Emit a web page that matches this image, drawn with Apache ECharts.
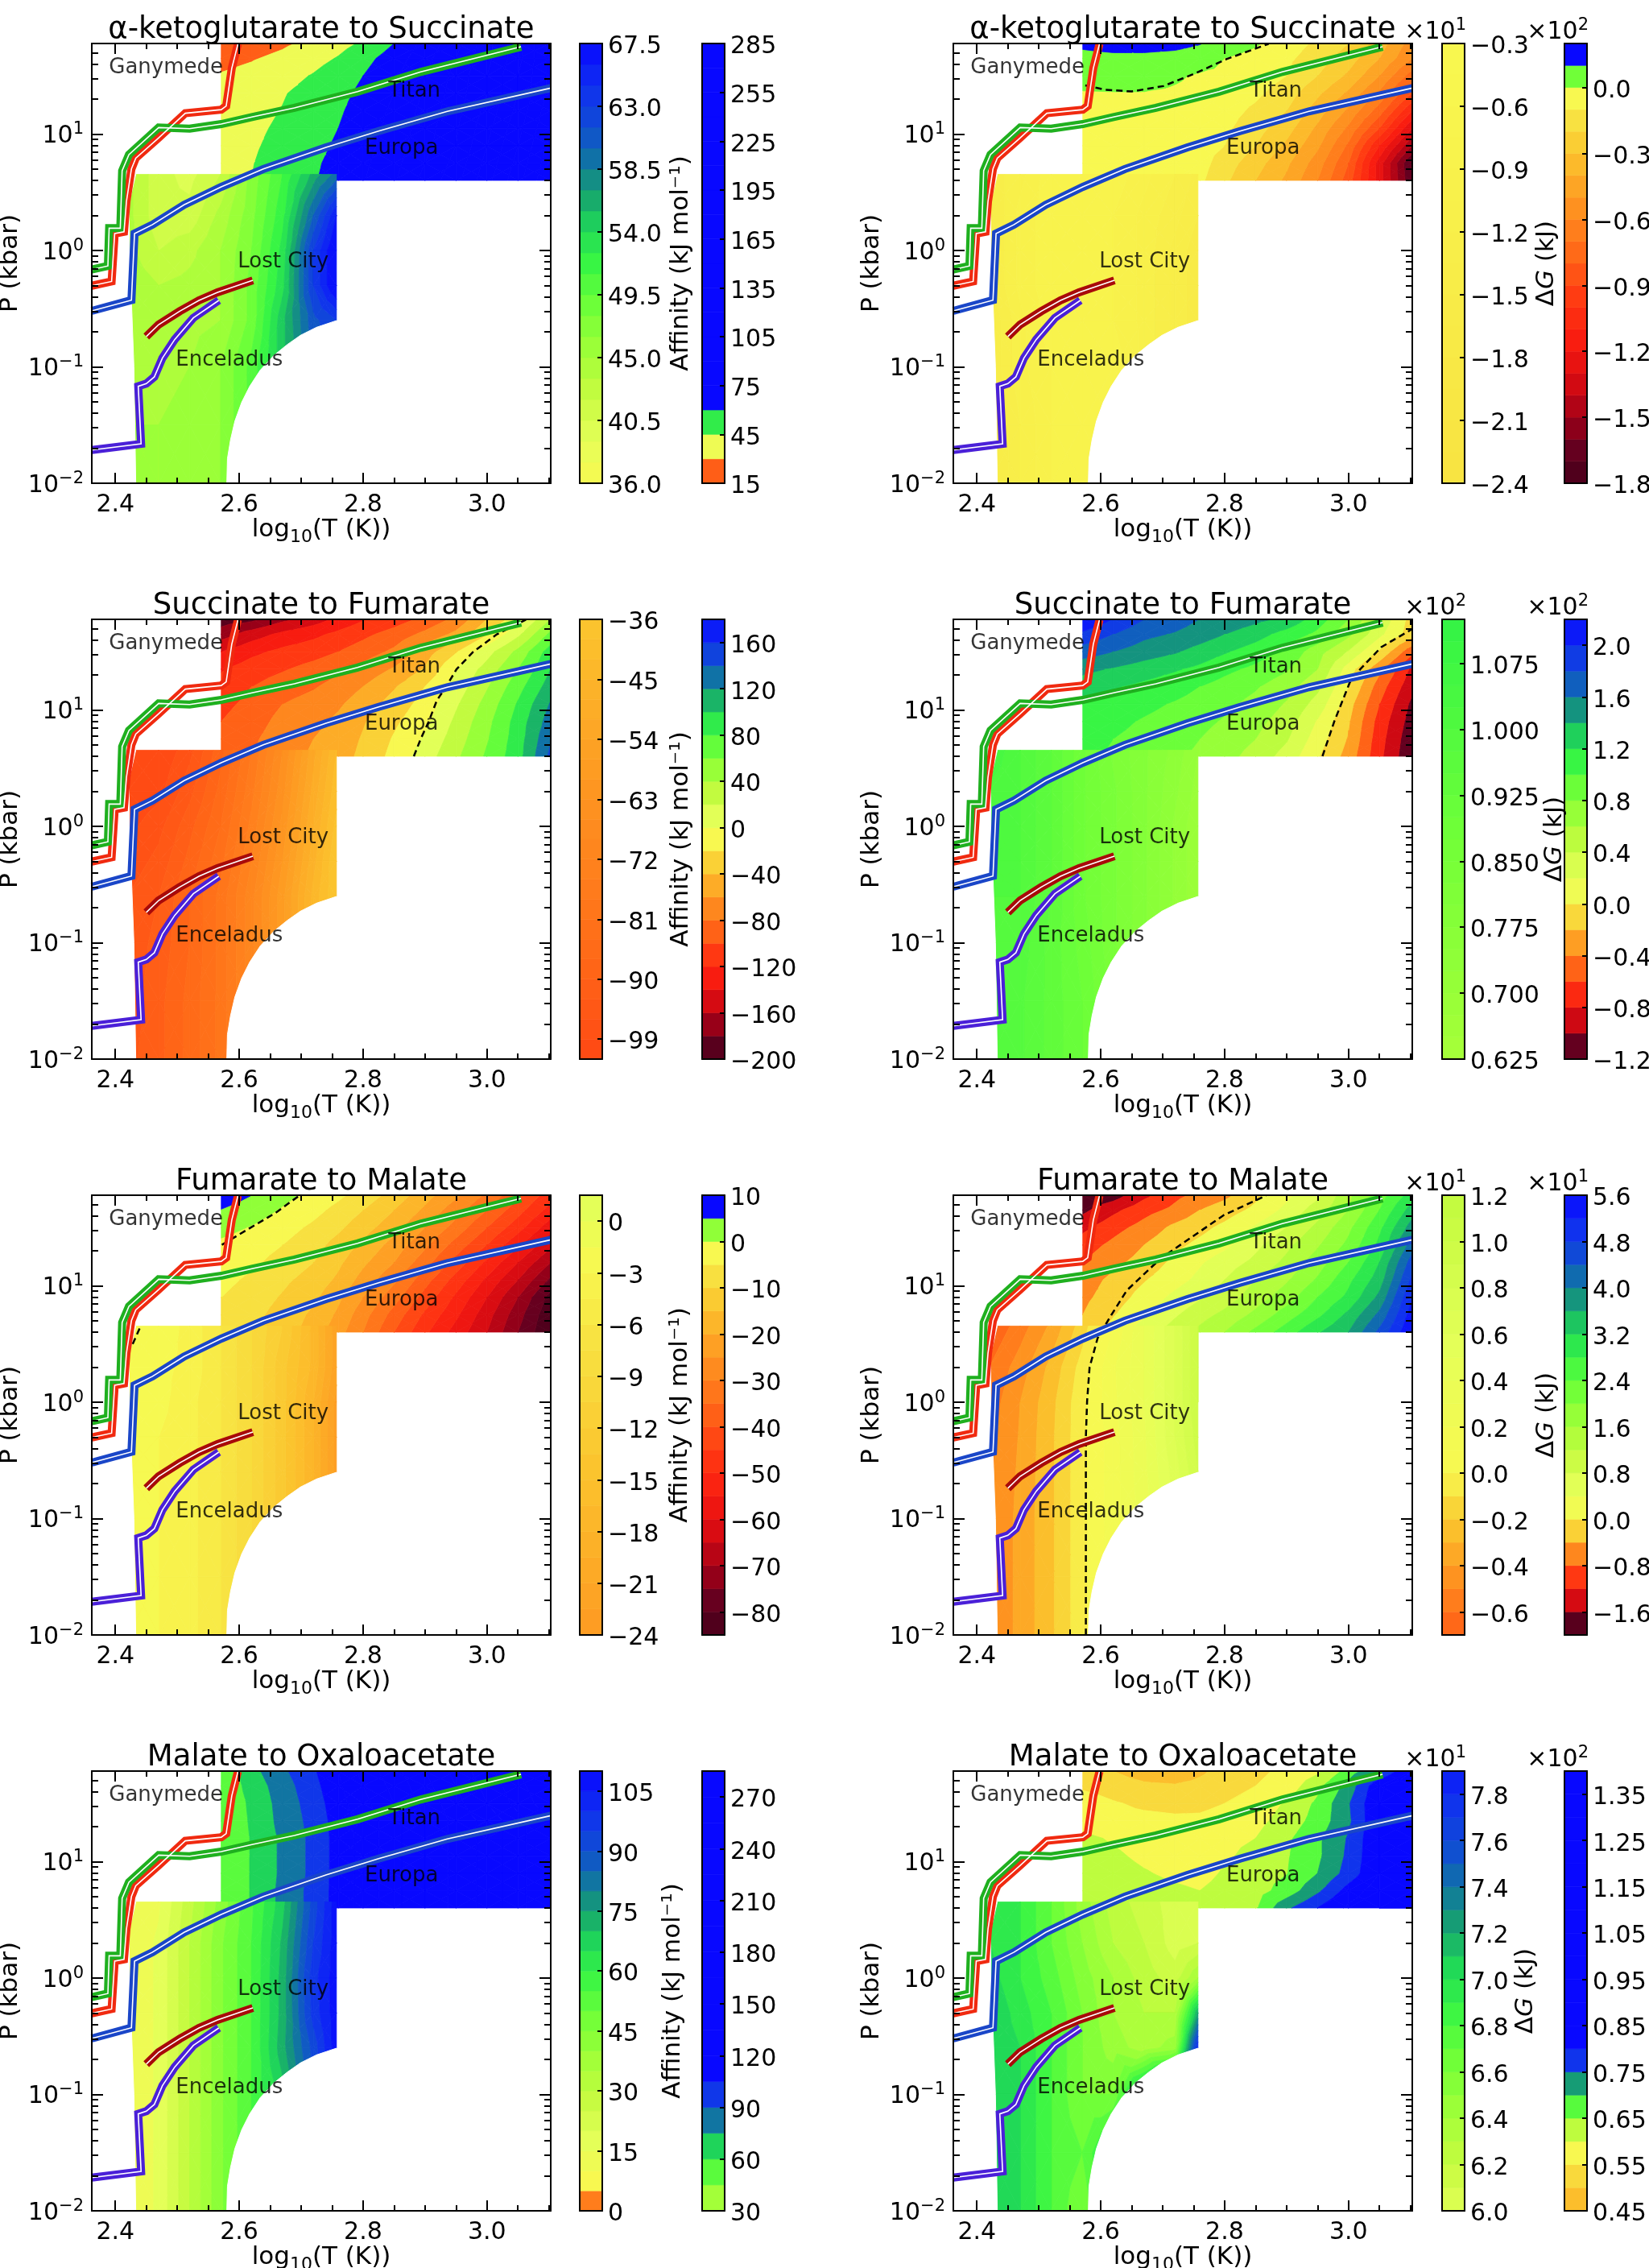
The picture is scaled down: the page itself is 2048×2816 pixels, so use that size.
<!DOCTYPE html>
<html>
<head>
<meta charset="utf-8">
<style>html,body{margin:0;padding:0;background:#fff}#chart{width:2048px;height:2816px}</style>
<script src="https://cdn.jsdelivr.net/npm/echarts@6/dist/echarts.min.js"></script>
</head>
<body>
<div id="chart"></div>
<script>
//grid nodes of the two P-T blocks, rows go from top to bottom
var upperT = [2.571,2.62,2.67,2.72,2.76,2.8,2.85,2.9,2.95,3.0,3.05,3.103];
var upperLogP = [1.778,1.65,1.5,1.35,1.2,1.05,0.9,0.75,0.602];
var lowerT = [2.42,2.47,2.52,2.57,2.62,2.67,2.72,2.757];
var lowerLogP = [0.654,0.3,0,-0.3,-0.6,-1,-1.5,-2];

//alpha-ketoglutarate to succinate
var akgAffUpper = [
	[20,24,28,33,40,47,60,80,100,130,160,200],
	[26,29,33,40,46,55,67,85,105,130,160,200],
	[31,34,40,46,53,60,72,90,110,135,165,200],
	[35,39,44,50,56,63,75,92,112,135,165,200],
	[38,41,45.5,52,58,66,78,95,115,140,170,205],
	[39,42.5,47,54,60,68,80,98,118,145,175,210],
	[40,43.5,48.5,56,62,70,82,100,120,150,180,215],
	[41,44.5,50,58,64,72,85,105,125,155,185,220],
	[42,45,51,59,65,74,88,110,130,160,190,225]];
var akgAffLower = [
	[44,41,40,42,47,51,56,59],
	[44,41,41,44,47.5,52,60,66],
	[44,42,43,45,48,53,63,68],
	[44.5,43.5,44,45,48.5,53.5,63,68],
	[44.5,44,44.5,45,48.5,55,61,63],
	[44.5,44.5,45,46.5,50,55,60,62],
	[45,45,45.5,46.5,50,55,60,62],
	[45,45,45.5,46.5,50,55,60,62]];
var akgDgUpper = [
	[12,14,14,13,10.5,5,1,-5,-12,-20,-35,-55],
	[7,7.5,7.5,6.5,4.5,0,-3,-8,-15,-25,-40,-60],
	[3,3,3,1,-1,-2,-5,-10,-20,-32,-50,-75],
	[-0.5,-0.3,-0.3,-1,-2,-4,-8,-15,-28,-42,-62,-90],
	[-1.5,-2,-2.5,-3,-4,-6,-12,-20,-35,-52,-75,-110],
	[-2,-3,-3,-4,-5,-8,-16,-26,-42,-62,-90,-130],
	[-4,-4,-4,-5,-6,-10,-20,-32,-48,-72,-110,-150],
	[-4,-4,-4,-5,-6,-15,-26,-38,-55,-80,-125,-172],
	[-3,-3,-4,-5,-8,-18,-30,-42,-60,-85,-125,-170]];
var akgDgLower = [
	[-13,-11,-8,-8,-8,-10,-12,-14],
	[-14,-10,-8,-8,-9,-11,-13,-15],
	[-14,-10,-8,-8,-9,-11,-14,-16],
	[-14,-10,-8,-8,-9,-11,-14,-16],
	[-15,-11,-8,-8,-9,-11,-14,-16],
	[-15,-11,-9,-8,-8,-11,-14,-16],
	[-16,-12,-9,-8,-8,-11,-14,-16],
	[-16,-12,-9,-8,-8,-11,-14,-16]];

//succinate to fumarate
var sucAffUpper = [
	[-190,-185,-165,-150,-135,-122,-110,-95,-75,-40,-8,40],
	[-170,-150,-135,-125,-115,-105,-92,-75,-55,-22,15,65],
	[-140,-125,-115,-108,-100,-90,-76,-50,-22,12,45,90],
	[-122,-110,-102,-93,-85,-73,-58,-38,0,28,60,100],
	[-112,-100,-90,-82,-72,-60,-42,-20,8,38,72,110],
	[-105,-95,-80,-72,-63,-50,-32,-12,17,47,82,122],
	[-100,-90,-73,-65,-56,-42,-24,-5,24,54,88,130],
	[-95,-84,-68,-60,-52,-38,-18,3,30,58,90,138],
	[-90,-80,-65,-58,-49,-35,-14,10,36,63,92,145]];
var sucAffLower = [
	[-104,-102,-97,-88,-78,-66,-52,-42],
	[-102,-100,-94,-86,-76,-64,-50,-40],
	[-100,-97,-91,-84,-74,-62,-48,-38],
	[-98,-95,-89,-82,-72,-60,-46,-36],
	[-96,-93,-87,-80,-70,-58,-44,-36],
	[-95,-92,-87,-80,-70,-58,-44,-36],
	[-95,-91,-86,-80,-70,-58,-44,-36],
	[-94,-91,-86,-80,-70,-58,-44,-36]];
var sucDgUpper = [
	[220,200,180,170,160,155,145,135,110,80,35,-8],
	[195,180,165,158,150,140,128,112,95,65,25,-12],
	[170,160,150,142,132,122,110,95,68,38,-3,-55],
	[145,138,130,122,115,105,95,82,60,10,-35,-85],
	[130,122,115,108,100,92,82,68,45,0,-50,-95],
	[120,112,105,98,92,84,74,58,32,-12,-60,-105],
	[112,105,98,92,85,78,66,50,18,-18,-68,-110],
	[108,100,94,87,80,72,60,42,10,-22,-72,-115],
	[105,97,90,84,76,67,52,32,2,-28,-75,-118]];
var sucDgLower = [
	[105,100,95,88,82,78,74,70],
	[102,100,95,88,83,78,73,69],
	[100,100,95,88,83,78,72,68],
	[100,100,95,88,83,78,72,68],
	[100,100,95,88,83,78,72,68],
	[100,99,94,89,83,78,72,68],
	[100,98,94,90,84,78,72,68],
	[100,98,94,90,84,78,72,68]];

//fumarate to malate
var fumAffUpper = [
	[8,5,1.5,-1.5,-4,-7,-12,-18,-24,-31,-39,-48],
	[4.8,2.5,-0.5,-3.5,-6.5,-10,-15,-21,-28,-35,-43,-52],
	[1.5,-0.3,-3,-6,-9,-13,-18,-25,-32,-40,-48,-58],
	[-1,-2.5,-5,-8,-12,-16,-22,-29,-37,-45,-54,-64],
	[-2,-4,-7,-10,-14,-19,-25,-33,-42,-51,-60,-70],
	[-3.5,-6,-9,-12,-16,-22,-29,-38,-47,-56,-65,-76],
	[-5,-7.5,-10.5,-14,-19,-25,-33,-42,-51,-60,-70,-82],
	[-6,-8.5,-12,-16,-21,-28,-37,-46,-54,-63,-73,-84],
	[-8,-10,-13,-17,-23,-30,-40,-49,-57,-65,-75,-85]];
var fumAffLower = [
	[-2,-2,-3.5,-6,-9,-12,-17,-22],
	[-2.5,-2.5,-3.5,-6,-9,-13,-17,-22],
	[-2.5,-2.5,-4,-6,-9,-13,-18,-23],
	[-3,-3,-4,-6,-9,-13,-18,-23],
	[-3,-3,-4,-6,-9,-13,-18,-23],
	[-3,-3,-4,-6,-9,-13,-18,-23],
	[-3,-3,-4,-6,-9,-13,-18,-23],
	[-3,-3,-4,-6,-9,-13,-18,-23]];
var fumDgUpper = [
	[-20,-18,-13,-9,-7,-5,-1,3,7,15,22,30],
	[-17,-13,-9.5,-7,-4,-2,1,5,10,16,24,34],
	[-13,-9.5,-6.5,-3,-1.2,1,4.5,8,13,19,27,38],
	[-10,-7,-4,-1,1,3,7,11,15.5,21,29,42],
	[-8,-5,-2.5,1,3.5,6,9,13,18,24,32,46],
	[-6,-3,-0.3,2.5,5,8,12,15.5,20.5,27,34,49],
	[-5,-2,1.5,5,7.5,10,14,18,24,29,37,52],
	[-4,-0.3,3.5,7.5,10.5,13,17,22,27,33,41,54],
	[-3,1.5,6,10,13,16,21,26,31.5,36,45,56]];
var fumDgLower = [
	[-7,-5.5,-3.8,-1.5,1,4,7,10],
	[-6,-4.5,-2.7,-0.6,1.8,4,7,10],
	[-5.6,-4,-2.3,-0.3,1.7,4,7,10],
	[-5.3,-3.9,-2.2,-0.3,1.5,3.8,7,9.5],
	[-5.2,-3.8,-2.2,-0.3,1.5,3.7,6.5,9],
	[-5,-3.7,-2.2,-0.3,1.5,3.5,6,8],
	[-5,-3.7,-2.2,-0.3,1.4,3,5.5,8],
	[-5,-3.7,-2.2,-0.3,1.4,3,5.5,8]];

//malate to oxaloacetate
var malAffUpper = [
	[48,70,87,103,120,140,160,180,200,220,240,260],
	[47,66,83,100,117,135,155,175,195,215,235,255],
	[46,63,81,97,114,130,150,170,190,210,230,250],
	[46,62,80,95,112,125,145,165,185,200,220,240],
	[45,61,78,94,111,125,145,165,185,200,220,240],
	[45,61,78,94,111,125,145,165,185,200,220,240],
	[46,61,78,94,111,125,145,165,185,200,220,240],
	[46,61,79,95,111,125,145,165,185,200,220,240],
	[46,61,79,95,111,125,145,165,185,200,220,240]];
var malAffLower = [
	[9,14,28,42,54,68,92,108],
	[10,16,30,44,55,71,95,108],
	[10,16,30,44,55,72,98,108],
	[10,16,30,44,55,72,97,108],
	[10,16,30,44,55,73,92,108],
	[10,16,30,44,55,68,90,108],
	[10,16,30,44,55,65,90,108],
	[10,16,30,44,55,65,90,108]];
var malDgUpper = [
	[52,50,47.5,46.5,49,52,54,56,59,67,75,85],
	[54,52.5,51,50.5,51.5,53,55,57,63.5,72,84,90],
	[58,55.5,54,53.5,53.8,55,57,60.5,66,74.5,85,90],
	[58,57,56.5,56,56,57,58.5,62,67,74,85,90],
	[61,59.5,58,57.5,57.5,58.5,60,64,69,75.5,85,90],
	[62,60.8,59,58,58,59,62,64.5,69,76,85,90],
	[63,62,60.4,59,58.5,60.5,63,64.8,70,77,85,90],
	[64,63,62,60.8,60,61.5,63,67,74,82,88,90],
	[64,63.5,63,62,61,62,64.5,74,80,86,90,90]];
var malDgLower = [
	[70,69,67,64.5,62.5,61.5,60.5,60.5],
	[70,69,67,65,63,62,60.5,61],
	[70.5,69,67.5,65.5,64,62.5,61.5,64],
	[71,69.5,68,66,64,63,63,72],
	[71,70,68,66,64.5,63.5,64.5,78],
	[71,70,68,66,66,72,78,79],
	[71,70,68,67,70,75,78,79],
	[71,70,68,66,70,75,78,79]];

//[start, stop, step] of the contour levels
var akgAffFine = [36,67.5,1.5], akgAffCoarse = [15,285,15];
var akgDgFine = [-24,-3,1.5], akgDgCoarse = [-180,20,10];
var sucAffFine = [-102,-36,3], sucAffCoarse = [-200,180,20];
var sucDgFine = [62.5,112.5,2.5], sucDgCoarse = [-120,220,20];
var fumAffFine = [-24,1.5,1.5], fumAffCoarse = [-85,10,5];
var fumDgFine = [-7,12,1], fumDgCoarse = [-20,56,4];
var malAffFine = [0,110,5], malAffCoarse = [30,285,15];
var malDgFine = [60,79,1], malDgCoarse = [45,140,5];

//colorbar ticks
var akgAffTicks1 = [36,40.5,45,49.5,54,58.5,63,67.5], akgAffTicks2 = [15,45,75,105,135,165,195,225,255,285];
var akgDgTicks1 = [-24,-21,-18,-15,-12,-9,-6,-3], akgDgTicks2 = [-180,-150,-120,-90,-60,-30,0];
var sucAffTicks1 = [-99,-90,-81,-72,-63,-54,-45,-36], sucAffTicks2 = [-200,-160,-120,-80,-40,0,40,80,120,160];
var sucDgTicks1 = [62.5,70,77.5,85,92.5,100,107.5], sucDgTicks2 = [-120,-80,-40,0,40,80,120,160,200];
var fumAffTicks1 = [-24,-21,-18,-15,-12,-9,-6,-3,0], fumAffTicks2 = [-80,-70,-60,-50,-40,-30,-20,-10,0,10];
var fumDgTicks1 = [-6,-4,-2,0,2,4,6,8,10,12], fumDgTicks2 = [-16,-8,0,8,16,24,32,40,48,56];
var malAffTicks1 = [0,15,30,45,60,75,90,105], malAffTicks2 = [30,60,90,120,150,180,210,240,270];
var malDgTicks1 = [60,62,64,66,68,70,72,74,76,78], malDgTicks2 = [45,55,65,75,85,95,105,115,125,135];

//pathways, [log10 T, log10 P]
var ganymede = [[2.362,-0.303],[2.394,-0.266],[2.399,0.145],[2.414,0.16],[2.418,0.422],[2.426,0.7],[2.433,0.793],[2.469,0.963],[2.513,1.179],[2.571,1.21],[2.579,1.241],[2.588,1.565],[2.598,1.775]];
var titan = [[2.362,-0.164],[2.388,-0.133],[2.39,0.191],[2.408,0.191],[2.411,0.685],[2.422,0.824],[2.47,1.056],[2.52,1.046],[2.571,1.086],[2.622,1.148],[2.689,1.225],[2.791,1.364],[2.893,1.534],[3.055,1.75]];
var europa = [[2.362,-0.519],[2.426,-0.427],[2.431,0.145],[2.46,0.222],[2.511,0.392],[2.571,0.546],[2.639,0.7],[2.74,0.886],[2.825,1.025],[2.936,1.195],[3.103,1.395]];
var lostCity = [[2.45,-0.74],[2.47,-0.637],[2.504,-0.522],[2.535,-0.429],[2.565,-0.36],[2.622,-0.257]];
var enceladus = [[2.362,-1.715],[2.4416,-1.662],[2.437,-1.167],[2.45,-1.144],[2.463,-1.086],[2.476,-0.925],[2.496,-0.764],[2.526,-0.579],[2.567,-0.429]];

//zero contours (dashed)
var akgDgZero = [[2.575,1.418],[2.607,1.381],[2.65,1.366],[2.701,1.412],[2.752,1.52],[2.803,1.644],[2.871,1.775]];
var sucAffZero = [[2.882,0.602],[2.893,0.75],[2.906,0.9],[2.919,1.08],[2.934,1.2],[2.951,1.35],[2.978,1.5],[3.016,1.65],[3.063,1.775]];
var sucDgZero = [[2.958,0.602],[2.977,0.9],[3.002,1.235],[3.019,1.35],[3.053,1.54],[3.103,1.695]];
var fumAffZero = [[2.572,1.352],[2.611,1.476],[2.658,1.624],[2.697,1.775]];
var fumAffZero2 = [[2.428,0.5],[2.441,0.654]];
var fumDgZero = [[2.576,-2],[2.576,-0.3],[2.578,0.01],[2.582,0.3],[2.595,0.55],[2.616,0.74],[2.642,0.96],[2.697,1.236],[2.731,1.36],[2.799,1.608],[2.867,1.775]];

//white corners of the lower block
var rightCut = [[2.7575,-0.602],[2.725,-0.66],[2.699,-0.729],[2.6775,-0.809],[2.656,-0.902],[2.634,-1.028],[2.617,-1.167],[2.604,-1.305],[2.593,-1.466],[2.586,-1.627],[2.581,-1.788],[2.58,-2],[2.76,-2],[2.76,-0.602]];
var leftCut = [[2.419,0.655],[2.433,0.655],[2.422,0.4],[2.423,0],[2.43,-1],[2.433,-2],[2.419,-2]];

var placeNames = ['Ganymede','Titan','Europa','Lost City','Enceladus'];
var placeT = [2.389,2.84,2.802,2.597,2.497];
var placeLogP = [1.57,1.37,0.876,-0.1,-0.944];

//shared colormap
var cmapStops = [[0,'#45001a'],[0.05,'#6a0020'],[0.08,'#9a0018'],[0.13,'#d40a12'],[0.18,'#f81a10'],[0.24,'#ff3a12'],[0.3,'#ff6a18'],[0.37,'#fe9a22'],[0.43,'#fbc52e'],[0.47,'#f8e040'],[0.5,'#f8f850'],[0.55,'#e4ff58'],[0.6,'#c6fb40'],[0.65,'#a0ff38'],[0.7,'#70ff38'],[0.75,'#38f544'],[0.79,'#20d858'],[0.83,'#16a070'],[0.87,'#1070a8'],[0.9,'#1050d0'],[0.95,'#1030f0'],[1,'#0808ff']];

var LEFT_COL = {plot:114, bar1:720, bar2:872};
var RIGHT_COL = {plot:1184, bar1:1791, bar2:1943};
var ROW_TOP = [54,769,1484,2199];
var AFF = 'Affinity (kJ mol\u207b\u00b9)', DG = '\u0394{i|G} (kJ)';

var panels = [
	{title:'\u03b1-ketoglutarate to Succinate',col:LEFT_COL,row:0,upper:akgAffUpper,lower:akgAffLower,fine:akgAffFine,coarse:akgAffCoarse,normF:[4.6,36,67.5],normC:[4.6,36,67.5],
		ticks1:akgAffTicks1,ticks2:akgAffTicks2,mult1:1,mult2:1,dec1:1,dec2:0,label:AFF,labelGap:82},
	{title:'\u03b1-ketoglutarate to Succinate',col:RIGHT_COL,row:0,upper:akgDgUpper,lower:akgDgLower,fine:akgDgFine,coarse:akgDgCoarse,normF:[-400,-3,16],normC:[-180,-5,20,10],zero:[akgDgZero],
		ticks1:akgDgTicks1,ticks2:akgDgTicks2,mult1:10,mult2:100,dec1:1,dec2:1,label:DG,labelGap:86,exp1:'\u00d710{s|1}',exp2:'\u00d710{s|2}'},
	{title:'Succinate to Fumarate',col:LEFT_COL,row:1,upper:sucAffUpper,lower:sucAffLower,fine:sucAffFine,coarse:sucAffCoarse,normF:[-200,-10,180],normC:[-200,-10,180],zero:[sucAffZero],
		ticks1:sucAffTicks1,ticks2:sucAffTicks2,mult1:1,mult2:1,dec1:0,dec2:0,label:AFF,labelGap:82},
	{title:'Succinate to Fumarate',col:RIGHT_COL,row:1,upper:sucDgUpper,lower:sucDgLower,fine:sucDgFine,coarse:sucDgCoarse,normF:[-120,0,220],normC:[-120,0,220],zero:[sucDgZero],
		ticks1:sucDgTicks1,ticks2:sucDgTicks2,mult1:100,mult2:100,dec1:3,dec2:1,label:DG,labelGap:96,exp1:'\u00d710{s|2}',exp2:'\u00d710{s|2}'},
	{title:'Fumarate to Malate',col:LEFT_COL,row:2,upper:fumAffUpper,lower:fumAffLower,fine:fumAffFine,coarse:fumAffCoarse,normF:[-85,-2.5,30],normC:[-85,-2.5,12.5,5],zero:[fumAffZero,fumAffZero2],
		ticks1:fumAffTicks1,ticks2:fumAffTicks2,mult1:1,mult2:1,dec1:0,dec2:0,label:AFF,labelGap:81},
	{title:'Fumarate to Malate',col:RIGHT_COL,row:2,upper:fumDgUpper,lower:fumDgLower,fine:fumDgFine,coarse:fumDgCoarse,normF:[-16,0,56],normC:[-19,0,56],zero:[fumDgZero],
		ticks1:fumDgTicks1,ticks2:fumDgTicks2,mult1:10,mult2:10,dec1:1,dec2:1,label:DG,labelGap:86,exp1:'\u00d710{s|1}',exp2:'\u00d710{s|1}'},
	{title:'Malate to Oxaloacetate',col:LEFT_COL,row:3,upper:malAffUpper,lower:malAffLower,fine:malAffFine,coarse:malAffCoarse,normF:[-7,7.5,110],normC:[-7,7.5,110],
		ticks1:malAffTicks1,ticks2:malAffTicks2,mult1:1,mult2:1,dec1:0,dec2:0,label:AFF,labelGap:72},
	{title:'Malate to Oxaloacetate',col:RIGHT_COL,row:3,upper:malDgUpper,lower:malDgLower,fine:malDgFine,coarse:malDgCoarse,normF:[-5,57.5,80],normC:[-5,57.5,80],
		ticks1:malDgTicks1,ticks2:malDgTicks2,mult1:10,mult2:100,dec1:1,dec2:2,label:DG,labelGap:60,exp1:'\u00d710{s|1}',exp2:'\u00d710{s|2}'}
];

var T_MIN = 2.362, T_MAX = 3.103, P_MIN = 0.01, P_MAX = 60;
var PLOT_W = 570, PLOT_H = 546, BAR_W = 28;
var FONT = 'DejaVu Sans';
var xMajor = [2.4,2.6,2.8,3.0];
var xMinor = [2.45,2.5,2.55,2.65,2.7,2.75,2.85,2.9,2.95,3.05,3.1];
var yMajor = [0.01,0.1,1,10];
var yMinor = [0.02,0.03,0.04,0.05,0.06,0.07,0.08,0.09,0.2,0.3,0.4,0.5,0.6,0.7,0.8,0.9,2,3,4,5,6,7,8,9,20,30,40,50];
var yTickNames = {0.01:'{b|10}{s|\u22122}',0.1:'{b|10}{s|\u22121}',1:'{b|10}{s|0}',10:'{b|10}{s|1}'};

function hexToRgb(h){
	return [parseInt(h.substr(1,2),16),parseInt(h.substr(3,2),16),parseInt(h.substr(5,2),16)];
}
function cmap(t){
	t = Math.max(0,Math.min(1,t));
	for(var i=1;i<cmapStops.length;i++){
		if(t<=cmapStops[i][0]){
			var a=cmapStops[i-1],b=cmapStops[i],f=(t-a[0])/(b[0]-a[0]);
			var ca=hexToRgb(a[1]),cb=hexToRgb(b[1]);
			return 'rgb('+Math.round(ca[0]+(cb[0]-ca[0])*f)+','+Math.round(ca[1]+(cb[1]-ca[1])*f)+','+Math.round(ca[2]+(cb[2]-ca[2])*f)+')';
		}
	}
	return cmapStops[cmapStops.length-1][1];
}
//norm is [low, centre, high], a fourth entry jumps straight to the top colour
function normColor(norm,v){
	if(norm.length>3&&v>=norm[3]) return cmap(1);
	var t = v<norm[1] ? 0.5*(v-norm[0])/(norm[1]-norm[0]) : 0.5+0.5*(v-norm[1])/(norm[2]-norm[1]);
	return cmap(t);
}
function levelList(spec){
	var out=[],n=Math.round((spec[1]-spec[0])/spec[2]);
	for(var i=0;i<=n;i++) out.push(spec[0]+i*spec[2]);
	return out;
}
//clip a polygon of [x,y,v] points to one side of a level
function clipBand(poly,lim,sign){
	var out=[];
	for(var i=0;i<poly.length;i++){
		var a=poly[i],b=poly[(i+1)%poly.length];
		var ina=sign*(a[2]-lim)>=0,inb=sign*(b[2]-lim)>=0;
		if(ina) out.push(a);
		if(ina!==inb){
			var f=(lim-a[2])/(b[2]-a[2]);
			out.push([a[0]+(b[0]-a[0])*f,a[1]+(b[1]-a[1])*f,lim]);
		}
	}
	return out;
}

var grids=[],xAxes=[],yAxes=[],series=[],titles=[];

function addX(gridIndex,opt){
	var a={type:'value',gridIndex:gridIndex,min:T_MIN,max:T_MAX,splitLine:{show:false},z:10,silent:true,axisLabel:{show:false},axisTick:{show:false},axisLine:{show:false}};
	for(var k in opt) a[k]=opt[k];
	xAxes.push(a);
	return xAxes.length-1;
}
function addY(gridIndex,opt){
	var a={type:'log',logBase:10,gridIndex:gridIndex,min:P_MIN,max:P_MAX,splitLine:{show:false},z:10,silent:true,axisLabel:{show:false},axisTick:{show:false},axisLine:{show:false}};
	for(var k in opt) a[k]=opt[k];
	yAxes.push(a);
	return yAxes.length-1;
}
var blackLine={show:true,onZero:false,lineStyle:{color:'#000',width:2}};
function ticks(values,len){
	return {show:true,inside:true,length:len,customValues:values,lineStyle:{color:'#000',width:2}};
}

function fieldSeries(xi,yi,z,Ts,logPs,values,levels,norm){
	var cells=[];
	for(var r=0;r<logPs.length-1;r++){
		for(var c=0;c<Ts.length-1;c++){
			cells.push([Ts[c],Math.pow(10,logPs[r]),c,r]);
		}
	}
	return {
		type:'custom',xAxisIndex:xi,yAxisIndex:yi,z:z,silent:true,animation:false,clip:true,
		data:cells,
		renderItem:function(params,api){
			var c=api.value(2),r=api.value(3),children=[];
			var a=[Ts[c],logPs[r],values[r][c]],b=[Ts[c+1],logPs[r],values[r][c+1]];
			var d=[Ts[c],logPs[r+1],values[r+1][c]],e=[Ts[c+1],logPs[r+1],values[r+1][c+1]];
			var m=[(a[0]+b[0])/2,(a[1]+d[1])/2,(a[2]+b[2]+d[2]+e[2])/4];
			var tris=[[a,b,m],[b,e,m],[e,d,m],[d,a,m]];
			for(var t=0;t<4;t++){
				for(var l=0;l<levels.length-1;l++){
					var poly=tris[t];
					//values outside the level range go to the end bands
					if(l>0) poly=clipBand(poly,levels[l],1);
					if(poly.length&&l<levels.length-2) poly=clipBand(poly,levels[l+1],-1);
					if(poly.length<3) continue;
					var col=normColor(norm,(levels[l]+levels[l+1])/2);
					children.push({
						type:'polygon',
						shape:{points:poly.map(function(p){return api.coord([p[0],Math.pow(10,p[1])]);})},
						style:{fill:col,stroke:col,lineWidth:0.8}
					});
				}
			}
			return {type:'group',children:children};
		}
	};
}
function cutSeries(xi,yi,points){
	return {
		type:'custom',xAxisIndex:xi,yAxisIndex:yi,z:4,silent:true,animation:false,clip:true,
		data:[[points[0][0],Math.pow(10,points[0][1])]],
		renderItem:function(params,api){
			return {type:'polygon',
				shape:{points:points.map(function(p){return api.coord([p[0],Math.pow(10,p[1])]);})},
				style:{fill:'#fff',stroke:'#fff',lineWidth:1}};
		}
	};
}
function pathSeries(xi,yi,z,path,color,width,dash){
	return {
		type:'line',xAxisIndex:xi,yAxisIndex:yi,z:z,silent:true,animation:false,showSymbol:false,symbol:'none',clip:true,
		data:path.map(function(p){return [p[0],Math.pow(10,p[1])];}),
		lineStyle:{color:color,width:width,type:dash?[8,5]:'solid',join:'miter',cap:'butt'}
	};
}
function labelSeries(xi,yi){
	var d=[];
	for(var i=0;i<placeNames.length;i++) d.push({name:placeNames[i],value:[placeT[i],Math.pow(10,placeLogP[i])]});
	return {
		type:'scatter',xAxisIndex:xi,yAxisIndex:yi,z:8,silent:true,animation:false,symbolSize:1,itemStyle:{color:'transparent'},
		label:{show:true,position:'right',distance:0,formatter:'{b}',color:'#000',fontFamily:FONT,fontSize:26},
		labelLayout:{hideOverlap:false},
		data:d
	};
}
function addBar(p,left,top,levelsSpec,norm,tickVals,mult,dec,nameOpt){
	var g=grids.length,levels=levelList(levelsSpec);
	grids.push({left:left,top:top,width:BAR_W,height:PLOT_H,outerBoundsMode:'none'});
	var lo=levels[0],hi=levels[levels.length-1];
	var axisBase={type:'value',gridIndex:g,splitLine:{show:false},z:10,silent:true,axisLabel:{show:false},axisTick:{show:false}};
	var xi=xAxes.length;
	xAxes.push(Object.assign({},axisBase,{min:0,max:1,position:'bottom',axisLine:blackLine}));
	xAxes.push(Object.assign({},axisBase,{min:0,max:1,position:'top',axisLine:blackLine}));
	var yi=yAxes.length;
	var yOpt=Object.assign({},axisBase,{min:lo,max:hi,position:'right',axisLine:blackLine,
		axisTick:{show:true,inside:true,length:6,customValues:tickVals,lineStyle:{color:'#000',width:2}},
		axisLabel:{show:true,customValues:tickVals,margin:7,color:'#000',fontFamily:FONT,fontSize:30,
			showMinLabel:true,showMaxLabel:true,hideOverlap:false,
			rich:{v:{color:'#000',fontFamily:FONT,fontSize:30,padding:[9,0,0,0]}},
			formatter:function(v){return '{v|'+(v/mult).toFixed(dec).replace('-','\u2212')+'}';}}
	});
	if(nameOpt) Object.assign(yOpt,nameOpt);
	yAxes.push(yOpt);
	yAxes.push(Object.assign({},axisBase,{min:lo,max:hi,position:'left',axisLine:blackLine}));
	var bands=[];
	for(var i=0;i<levels.length-1;i++) bands.push([0,levels[i],1,levels[i+1]]);
	series.push({
		type:'custom',xAxisIndex:xi,yAxisIndex:yi,z:2,silent:true,animation:false,
		data:bands,
		renderItem:function(params,api){
			var a=api.coord([0,api.value(1)]),b=api.coord([1,api.value(3)]);
			var col=normColor(norm,(api.value(1)+api.value(3))/2);
			return {type:'rect',shape:{x:a[0],y:b[1],width:b[0]-a[0],height:a[1]-b[1]},style:{fill:col,stroke:col,lineWidth:0.6}};
		}
	});
}
function expTitle(text,x,y){
	return {text:text,left:x,top:y,textAlign:'right',
		textStyle:{color:'#000',fontFamily:FONT,fontSize:30,fontWeight:'normal',lineHeight:38,
			rich:{s:{color:'#000',fontFamily:FONT,fontSize:21,lineHeight:21,verticalAlign:'top'}}}};
}

panels.forEach(function(p){
	var left=p.col.plot,top=ROW_TOP[p.row];
	var g=grids.length;
	grids.push({left:left,top:top,width:PLOT_W,height:PLOT_H,outerBoundsMode:'none'});
	var xi=addX(g,{position:'bottom',axisLine:blackLine,axisTick:ticks(xMajor,13),
		axisLabel:{show:true,customValues:xMajor,margin:12,color:'#000',fontFamily:FONT,fontSize:30,formatter:function(v){return v.toFixed(1);}},
		name:'log{s|10}(T (K))',nameLocation:'middle',nameGap:38,nameMoveOverlap:false,
		nameTextStyle:{color:'#000',fontFamily:FONT,fontSize:31,lineHeight:40,rich:{s:{color:'#000',fontFamily:FONT,fontSize:22,lineHeight:22,verticalAlign:'bottom'}}}});
	addX(g,{position:'top',axisLine:blackLine,axisTick:ticks(xMajor,13)});
	addX(g,{position:'bottom',axisTick:ticks(xMinor,7)});
	addX(g,{position:'top',axisTick:ticks(xMinor,7)});
	var yi=addY(g,{position:'left',axisLine:blackLine,axisTick:ticks(yMajor,14),
		axisLabel:{show:true,customValues:yMajor,margin:10,padding:[6,0,0,0],color:'#000',fontFamily:FONT,fontSize:30,
			rich:{b:{color:'#000',fontFamily:FONT,fontSize:30,lineHeight:38},s:{color:'#000',fontFamily:FONT,fontSize:21,lineHeight:21,verticalAlign:'top'}},
			formatter:function(v){return yTickNames[Number(Number(v).toPrecision(2))];}},
		name:'P (kbar)',nameLocation:'middle',nameGap:86,nameTextStyle:{color:'#000',fontFamily:FONT,fontSize:31}});
	addY(g,{position:'right',axisLine:blackLine,axisTick:ticks(yMajor,14)});
	addY(g,{position:'left',axisTick:ticks(yMinor,8)});
	addY(g,{position:'right',axisTick:ticks(yMinor,8)});

	series.push(fieldSeries(xi,yi,2,upperT,upperLogP,p.upper,levelList(p.coarse),p.normC));
	series.push(fieldSeries(xi,yi,3,lowerT,lowerLogP,p.lower,levelList(p.fine),p.normF));
	series.push(cutSeries(xi,yi,rightCut));
	series.push(cutSeries(xi,yi,leftCut));
	(p.zero||[]).forEach(function(z){series.push(pathSeries(xi,yi,5,z,'#000',2.5,true));});
	[[ganymede,'#f02a10'],[titan,'#1fb01f'],[europa,'#1a46c8'],[lostCity,'#a80a0a'],[enceladus,'#4a20d8']].forEach(function(q){
		series.push(pathSeries(xi,yi,6,q[0],q[1],10,false));
		series.push(pathSeries(xi,yi,7,q[0],'#fff',1.6,false));
	});
	series.push(labelSeries(xi,yi));

	titles.push({text:p.title,left:left+PLOT_W/2-5,top:top-40,textAlign:'center',textStyle:{color:'#000',fontFamily:FONT,fontSize:37,fontWeight:'normal'}});
	if(p.exp1){
		titles.push(expTitle(p.exp1,p.col.bar1+25,top-38));
		titles.push(expTitle(p.exp2,p.col.bar2+25,top-38));
	}
	addBar(p,p.col.bar1,top,p.fine,p.normF,p.ticks1,p.mult1,p.dec1,{
		name:p.label,nameLocation:'middle',nameRotate:90,nameGap:p.labelGap,
		nameTextStyle:{color:'#000',fontFamily:FONT,fontSize:31,rich:{i:{fontStyle:'italic',color:'#000',fontFamily:FONT,fontSize:31}}}
	});
	addBar(p,p.col.bar2,top,p.coarse,p.normC,p.ticks2,p.mult2,p.dec2);
});

var myChart = echarts.init(document.getElementById('chart'),null,{renderer:'canvas'});
myChart.setOption({
	backgroundColor:'#fff',
	animation:false,
	title:titles,
	grid:grids,
	xAxis:xAxes,
	yAxis:yAxes,
	series:series
});
</script>
</body>
</html>
